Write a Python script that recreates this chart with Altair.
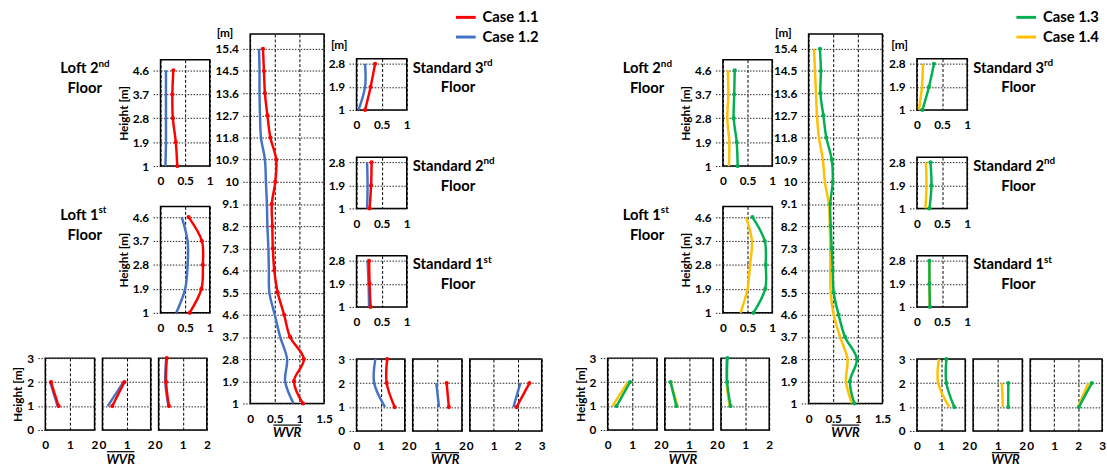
import altair as alt
import pandas as pd

FONT = "Lato"
DUMMY = pd.DataFrame({"k": [0]})

# ---------------- categories / ticks ----------------
CASES_L = ["Case 1.1", "Case 1.2"]
COLORS_L = ["#FF0000", "#4472C4"]
CASES_R = ["Case 1.3", "Case 1.4"]
COLORS_R = ["#00B050", "#FFC000"]
ALL_CASES = CASES_L + CASES_R
ALL_COLORS = COLORS_L + COLORS_R

H_TALL = [1, 1.9, 2.8, 3.7, 4.6, 5.5, 6.4, 7.3, 8.2, 9.1, 10, 10.9, 11.8, 12.7, 13.6, 14.5, 15.4]
H_LOFT = [1, 1.9, 2.8, 3.7, 4.6]
H_STD = [1, 1.9, 2.8]
H_TWO = [1, 2]
H_THREE = [1, 2, 3]

X_TALL = [0, 0.5, 1, 1.5]
X_SMALL = [0, 0.5, 1]
X_FLOOR2 = [0, 1, 2]
X_FLOOR3 = [0, 1, 2, 3]
Y_FLOOR = [0, 1, 2, 3]

# ---------------- values (WVR), bottom -> top ----------------
C11_TALL = [1.07, 0.89, 1.09, 0.81, 0.69, 0.56, 0.49, 0.46, 0.45, 0.44, 0.51, 0.53, 0.41, 0.35, 0.30, 0.28, 0.26]
C12_TALL = [0.88, 0.71, 0.75, 0.61, 0.50, 0.39, 0.38, 0.37, 0.35, 0.34, 0.32, 0.30, 0.22, 0.20, 0.19, 0.19, 0.18]
C13_TALL = [0.93, 0.84, 0.98, 0.74, 0.61, 0.51, 0.49, 0.47, 0.45, 0.44, 0.49, 0.47, 0.36, 0.30, 0.24, 0.25, 0.23]
C14_TALL = [0.88, 0.76, 0.79, 0.64, 0.51, 0.45, 0.44, 0.44, 0.43, 0.41, 0.33, 0.29, 0.21, 0.17, 0.15, 0.13, 0.11]

C11_LOFT2 = [0.34, 0.31, 0.25, 0.24, 0.26]
C12_LOFT2 = [0.10, 0.11, 0.11, 0.11, 0.11]
C11_LOFT1 = [0.59, 0.83, 0.86, 0.84, 0.57]
C12_LOFT1 = [0.32, 0.50, 0.55, 0.55, 0.43]
C13_LOFT2 = [0.30, 0.28, 0.22, 0.23, 0.24]
C14_LOFT2 = [0.12, 0.13, 0.09, 0.11, 0.10]
C13_LOFT1 = [0.62, 0.86, 0.87, 0.85, 0.60]
C14_LOFT1 = [0.36, 0.50, 0.55, 0.59, 0.47]

C11_STD3 = [0.17, 0.28, 0.37]
C12_STD3 = [0.04, 0.17, 0.17]
C11_STD2 = [0.26, 0.29, 0.30]
C12_STD2 = [0.21, 0.22, 0.21]
C11_STD1 = [0.28, 0.26, 0.25]
C12_STD1 = [0.25, 0.24, 0.22]
C13_STD3 = [0.11, 0.24, 0.34]
C14_STD3 = [0.04, 0.10, 0.12]
C13_STD2 = [0.25, 0.29, 0.27]
C14_STD2 = [0.17, 0.19, 0.18]
C13_STD1 = [0.26, 0.25, 0.25]
C14_STD1 = [0.25, 0.25, 0.24]

C11_BL1 = [0.54, 0.23]
C12_BL1 = [0.50, 0.20]
C11_BL2 = [0.41, 0.91]
C12_BL2 = [0.22, 0.87]
C11_BL3 = [0.43, 0.31, 0.34]
C12_BL3 = [0.41, 0.28, 0.32]
C13_BL1 = [0.36, 0.91]
C14_BL1 = [0.19, 0.82]
C13_BL2 = [0.48, 0.24]
C14_BL2 = [0.53, 0.24]
C13_BL3 = [0.40, 0.26, 0.27]
C14_BL3 = [0.36, 0.23, 0.23]

C11_BR1 = [1.58, 1.25, 1.27]
C12_BR1 = [1.18, 0.73, 0.78]
C11_BR2 = [1.47, 1.38]
C12_BR2 = [1.07, 0.96]
C11_BR3 = [1.95, 2.49]
C12_BR3 = [1.82, 2.11]
C13_BR1 = [1.55, 1.22, 1.22]
C14_BR1 = [1.34, 0.88, 0.91]
C13_BR2 = [1.43, 1.43]
C14_BR2 = [1.21, 1.17]
C13_BR3 = [2.03, 2.57]
C14_BR3 = [2.00, 2.43]

NOVIEW = alt.ViewBackground(stroke="transparent")
FMT = ".3~g"


def txt(text, x, y, size=12, align="left", style="normal", weight="bold"):
    return alt.Chart(DUMMY).mark_text(
        text=text, font=FONT, fontSize=size, fontWeight=weight, fontStyle=style,
        align=align, baseline="middle", color="black"
    ).encode(x=alt.value(x), y=alt.value(y))


def wvr_title(cx, ht):
    return [
        txt("WVR", cx, ht + 30, size=13, align="center", style="italic"),
        alt.Chart(DUMMY).mark_rule(color="black", strokeWidth=1.2).encode(
            x=alt.value(cx - 14), x2=alt.value(cx + 14), y=alt.value(ht + 22)
        ),
    ]


def panel(h, a, b, cases, colors, xdom, xticks, ydom, yticks, w, ht,
          ylab=True, ytitle=None, wvr_dx=None, extra=()):
    n = len(h)
    df = pd.DataFrame({
        "h": list(h) * 2,
        "v": list(a) + list(b),
        "case": [cases[0]] * n + [cases[1]] * n,
    })
    color = alt.Color("case:N", scale=alt.Scale(domain=ALL_CASES, range=ALL_COLORS), legend=None)
    xaxis = alt.Axis(values=xticks, format=FMT, title=None, grid=True, gridDash=[3, 2],
                     gridColor="#000000", gridWidth=1, domain=False, ticks=False, tickSize=0,
                     labelPadding=10, labelFlush=False, labelOverlap=False)
    yopts = dict(values=yticks, format=FMT, grid=True, gridDash=[1.5, 1.5], gridColor="#222222",
                 gridWidth=1, domain=False, labelFlush=False, labelOverlap=False)
    if ylab:
        yopts.update(labels=True, ticks=True, tickSize=9, tickDash=[1.5, 1.5],
                     tickColor="#222222", tickWidth=1, labelPadding=3)
    else:
        yopts.update(labels=False, ticks=False, tickSize=0)
    if ytitle:
        yopts.update(title=ytitle, titlePadding=2)
    else:
        yopts.update(title=None)
    x = alt.X("v:Q", scale=alt.Scale(domain=xdom, nice=False, zero=False), axis=xaxis)
    y = alt.Y("h:Q", scale=alt.Scale(domain=ydom, nice=False, zero=False), axis=alt.Axis(**yopts))
    base = alt.Chart(df)
    line_b = base.transform_filter(alt.datum.case == cases[1]).mark_line(
        interpolate="catmull-rom", strokeWidth=2.5
    ).encode(x=x, y=y, color=color, order=alt.Order("h:Q"))
    line_a = base.transform_filter(alt.datum.case == cases[0]).mark_line(
        interpolate="catmull-rom", strokeWidth=2.5
    ).encode(x=x, y=y, color=color, order=alt.Order("h:Q"))
    pts_a = base.transform_filter(alt.datum.case == cases[0]).mark_point(
        filled=True, size=18, opacity=1
    ).encode(x=x, y=y, color=color)
    layers = [line_b, line_a, pts_a]
    if wvr_dx is not None:
        layers += wvr_title(w / 2 + wvr_dx, ht)
    layers += list(extra)
    return alt.layer(*layers).properties(width=w, height=ht)


def floor_label(main, sup, w, ht, rx, cx):
    return alt.layer(
        txt(main, rx, 9, size=15, align="right"),
        txt(sup, rx, 4, size=10, align="left"),
        txt("Floor", cx, 29, size=15, align="center"),
    ).properties(width=w, height=ht, view=NOVIEW)


def spacer(w, ht):
    return alt.Chart(DUMMY).mark_rule(strokeOpacity=0).encode(
        x=alt.value(0), x2=alt.value(1), y=alt.value(1)
    ).properties(width=w, height=ht, view=NOVIEW)


def legend_chart(cases, colors):
    layers = []
    for i in range(2):
        yy = -17 + 20 * i
        layers.append(alt.Chart(DUMMY).mark_rule(color=colors[i], strokeWidth=3).encode(
            x=alt.value(101), x2=alt.value(121), y=alt.value(yy)))
        layers.append(txt(cases[i], 128, yy, size=15))
    layers.append(txt("[m]", -26, 11, size=12))
    return alt.layer(*layers).properties(width=1, height=17, view=NOVIEW)


def half(cases, colors, D, sp_a, sp_b):
    tall = panel(H_TALL, D["tall"][0], D["tall"][1], cases, colors, [0, 1.5], X_TALL,
                 [1, 16], H_TALL, 75, 375, wvr_dx=0, extra=[txt("[m]", -34, -1)])

    loft2 = panel(H_LOFT, D["loft2"][0], D["loft2"][1], cases, colors, [0, 1], X_SMALL,
                  [1, 5], H_LOFT, 50, 108, ytitle="Height [m]")
    loft1 = panel(H_LOFT, D["loft1"][0], D["loft1"][1], cases, colors, [0, 1], X_SMALL,
                  [1, 5], H_LOFT, 50, 108, ytitle="Height [m]")
    lrow2 = alt.hconcat(floor_label("Loft 2", "nd", 110, 108, 54, 40), loft2, spacing=7, bounds="flush")
    lrow1 = alt.hconcat(floor_label("Loft 1", "st", 110, 108, 54, 40), loft1, spacing=7, bounds="flush")

    bl1 = panel(H_TWO, D["bl1"][0], D["bl1"][1], cases, colors, [0, 2], X_FLOOR2,
                [0, 3], Y_FLOOR, 50, 73, ytitle="Height [m]")
    bl2 = panel(H_TWO, D["bl2"][0], D["bl2"][1], cases, colors, [0, 2], X_FLOOR2,
                [0, 3], Y_FLOOR, 49, 73, ylab=False, wvr_dx=-6)
    bl3 = panel(H_THREE, D["bl3"][0], D["bl3"][1], cases, colors, [0, 2], X_FLOOR2,
                [0, 3], Y_FLOOR, 49, 73, ylab=False)
    blrow = alt.hconcat(bl1, bl2, bl3, spacing=8, bounds="flush")
    col_a = alt.vconcat(spacer(1, 6), lrow2, lrow1, blrow, spacing=17)

    std3 = panel(H_STD, D["std3"][0], D["std3"][1], cases, colors, [0, 1], X_SMALL,
                 [1, 3], H_STD, 51, 52)
    std2 = panel(H_STD, D["std2"][0], D["std2"][1], cases, colors, [0, 1], X_SMALL,
                 [1, 3], H_STD, 51, 52)
    std1 = panel(H_STD, D["std1"][0], D["std1"][1], cases, colors, [0, 1], X_SMALL,
                 [1, 3], H_STD, 51, 52)
    srow3 = alt.hconcat(std3, floor_label("Standard 3", "rd", 95, 52, 70, 44), spacing=8, bounds="flush")
    srow2 = alt.hconcat(std2, floor_label("Standard 2", "nd", 95, 52, 70, 44), spacing=8, bounds="flush")
    srow1 = alt.hconcat(std1, floor_label("Standard 1", "st", 95, 52, 70, 44), spacing=8, bounds="flush")

    br1 = panel(H_THREE, D["br1"][0], D["br1"][1], cases, colors, [0, 2], X_FLOOR2,
                [0, 3], Y_FLOOR, 49, 73)
    br2 = panel(H_TWO, D["br2"][0], D["br2"][1], cases, colors, [0, 2], X_FLOOR2,
                [0, 3], Y_FLOOR, 50, 73, ylab=False, wvr_dx=8)
    br3 = panel(H_TWO, D["br3"][0], D["br3"][1], cases, colors, [0, 3], X_FLOOR3,
                [0, 3], Y_FLOOR, 73, 73, ylab=False)
    brrow = alt.hconcat(br1, br2, br3, spacing=8, bounds="flush")

    inner_b = alt.vconcat(srow3, srow2, srow1, brrow, spacing=24)
    col_b = alt.vconcat(legend_chart(cases, colors), inner_b, spacing=5)

    left = alt.hconcat(col_a, tall, spacing=sp_a)
    return alt.hconcat(left, col_b, spacing=sp_b)


DATA_L = {
    "tall": (C11_TALL, C12_TALL), "loft2": (C11_LOFT2, C12_LOFT2), "loft1": (C11_LOFT1, C12_LOFT1),
    "std3": (C11_STD3, C12_STD3), "std2": (C11_STD2, C12_STD2), "std1": (C11_STD1, C12_STD1),
    "bl1": (C11_BL1, C12_BL1), "bl2": (C11_BL2, C12_BL2), "bl3": (C11_BL3, C12_BL3),
    "br1": (C11_BR1, C12_BR1), "br2": (C11_BR2, C12_BR2), "br3": (C11_BR3, C12_BR3),
}
DATA_R = {
    "tall": (C13_TALL, C14_TALL), "loft2": (C13_LOFT2, C14_LOFT2), "loft1": (C13_LOFT1, C14_LOFT1),
    "std3": (C13_STD3, C14_STD3), "std2": (C13_STD2, C14_STD2), "std1": (C13_STD1, C14_STD1),
    "bl1": (C13_BL1, C14_BL1), "bl2": (C13_BL2, C14_BL2), "bl3": (C13_BL3, C14_BL3),
    "br1": (C13_BR1, C14_BR1), "br2": (C13_BR2, C14_BR2), "br3": (C13_BR3, C14_BR3),
}

chart = alt.hconcat(
    half(CASES_L, COLORS_L, DATA_L, -1, -7),
    half(CASES_R, COLORS_R, DATA_R, -5, -5),
    spacing=27,
).properties(
    padding={"left": 11, "top": 6, "right": 0, "bottom": 0},
    background="white",
).configure_view(
    stroke="#000000", strokeWidth=1.5
).configure_axis(
    labelFont=FONT, labelFontSize=12, labelFontWeight="bold", labelColor="black",
    titleFont=FONT, titleFontSize=12, titleFontWeight="bold", titleColor="black",
)

chart.save("out.html", embed_options={"renderer": "svg", "actions": False})
